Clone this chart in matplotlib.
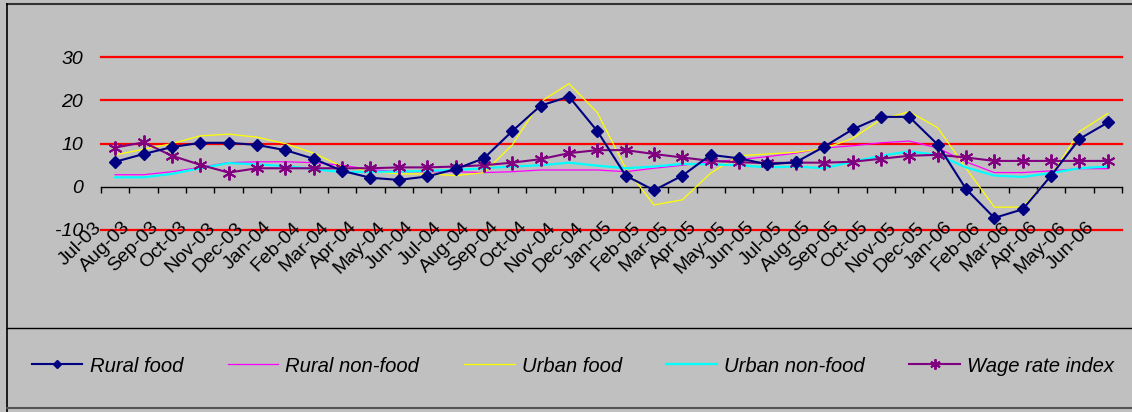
import matplotlib
matplotlib.use("Agg")
import matplotlib.pyplot as plt
import matplotlib.transforms as mtransforms
from matplotlib.lines import Line2D
import numpy as np

plt.rcParams['font.family'] = ['Liberation Sans', 'DejaVu Sans']

months = ["Jul-03", "Aug-03", "Sep-03", "Oct-03", "Nov-03", "Dec-03",
          "Jan-04", "Feb-04", "Mar-04", "Apr-04", "May-04", "Jun-04",
          "Jul-04", "Aug-04", "Sep-04", "Oct-04", "Nov-04", "Dec-04",
          "Jan-05", "Feb-05", "Mar-05", "Apr-05", "May-05", "Jun-05",
          "Jul-05", "Aug-05", "Sep-05", "Oct-05", "Nov-05", "Dec-05",
          "Jan-06", "Feb-06", "Mar-06", "Apr-06", "May-06", "Jun-06"]

rural_food = [5.8, 7.6, 9.2, 10.2, 10.2, 9.7, 8.5, 6.5, 3.7, 2.1, 1.6, 2.4,
              4.1, 6.6, 12.9, 18.8, 20.9, 12.9, 2.6, -0.8, 2.6, 7.4, 6.6, 5.2,
              5.7, 9.3, 13.3, 16.2, 16.2, 9.8, -0.5, -7.2, -5.2, 2.6, 11.1, 14.9]
rural_nonfood = [2.8, 2.8, 3.5, 4.5, 5.6, 5.8, 5.8, 5.6, 5.0, 4.0, 3.5, 3.5,
                 3.5, 3.3, 3.5, 3.9, 3.9, 3.9, 3.5, 4.3, 5.0, 5.8, 6.3, 7.0,
                 7.8, 9.0, 9.5, 10.2, 10.6, 9.0, 5.8, 3.3, 3.3, 3.7, 4.2, 4.2]
urban_food = [7.4, 8.7, 10.0, 11.8, 12.2, 11.5, 10.0, 7.8, 4.7, 3.6, 3.0, 3.0,
              2.6, 3.3, 9.7, 19.7, 23.9, 17.2, 4.3, -4.2, -3.0, 3.2, 7.2, 7.6,
              8.0, 8.9, 11.2, 15.6, 17.4, 13.7, 4.3, -4.7, -4.7, 2.6, 12.8, 17.0]
urban_nonfood = [2.2, 2.2, 3.0, 4.3, 5.5, 5.2, 4.8, 4.1, 3.4, 3.5, 3.5, 3.7,
                 3.9, 4.3, 4.7, 5.0, 5.6, 4.9, 4.3, 4.7, 5.3, 5.2, 5.0, 4.5,
                 4.7, 4.3, 5.8, 7.2, 8.2, 7.4, 4.5, 2.6, 2.3, 3.2, 4.3, 4.7]
wage_index = [9.1, 10.3, 7.2, 5.1, 3.3, 4.3, 4.3, 4.3, 4.3, 4.3, 4.5, 4.5,
              4.7, 5.0, 5.6, 6.4, 7.8, 8.5, 8.5, 7.6, 6.8, 6.0, 5.7, 5.5,
              5.6, 5.6, 5.8, 6.5, 7.2, 7.4, 6.8, 6.0, 6.0, 6.0, 6.0, 6.0]

y_ticks = [-10, 0, 10, 20, 30]
grid_levels = [-10, 10, 20, 30]

W, H = 1132, 412
bg = '#C0C0C0'
fig = plt.figure(figsize=(W / 100, H / 100), dpi=100, facecolor=bg)

left, right = 101 / W, 1122 / W
bottom, top = 1 - 230 / H, 1 - 57.3 / H
ax = fig.add_axes([left, bottom, right - left, top - bottom], facecolor=bg)

x = np.arange(len(months))
ax.set_xlim(-0.5, len(months) - 0.5)
ax.set_ylim(-10, 30)

for g in grid_levels:
    ax.axhline(g, color='#FF0000', lw=1.6, zorder=1, clip_on=False)

ax.plot(x, rural_nonfood, color='#FF00FF', lw=0.9, zorder=3, label='Rural non-food', clip_on=False)
ax.plot(x, urban_food, color='#FFFF00', lw=0.9, zorder=3, label='Urban food', clip_on=False)
ax.plot(x, urban_nonfood, color='#00FFFF', lw=1.6, zorder=3, label='Urban non-food', clip_on=False)
ax.plot(x, wage_index, color='#800080', lw=1.5, marker=(6, 2, 0), ms=10,
        mew=1.4, zorder=4, label='Wage rate index', clip_on=False)
ax.plot(x, rural_food, color='#000080', lw=1.5, marker='D', ms=6, zorder=5,
        label='Rural food', clip_on=False)

for s in ['top', 'right', 'left']:
    ax.spines[s].set_visible(False)
ax.spines['bottom'].set_position(('data', 0))
ax.spines['bottom'].set_color('black')
ax.spines['bottom'].set_linewidth(1.0)
ax.spines['bottom'].set_zorder(2)

ax.set_xticks(x)
ax.set_xticks(np.arange(-0.5, len(months)), minor=True)
ax.tick_params(axis='x', which='major', length=0, pad=23)
ax.tick_params(axis='x', which='minor', length=4.5, width=1.0, direction='out', color='black')
ax.set_xticklabels(months, rotation=45, ha='right', va='top', fontsize=14)
offset = mtransforms.ScaledTranslation(-10 / 100, 0, fig.dpi_scale_trans)
for lab in ax.get_xticklabels():
    lab.set_transform(lab.get_transform() + offset)

ax.set_yticks(y_ticks)
ax.set_yticklabels([str(v) for v in y_ticks], fontsize=14, style='italic')
ax.tick_params(axis='y', length=0, pad=13)

# chart frame lines
def fline(x0, y0, x1, y1, color, lw):
    fig.add_artist(Line2D([x0 / W, x1 / W], [1 - y0 / H, 1 - y1 / H],
                          transform=fig.transFigure, color=color, lw=lw))

fline(7, 4, W, 4, '#333333', 1.5)
fline(7, 4, 7, 412, '#000000', 1.2)
fline(7, 328, W, 328, '#000000', 1.0)
fline(7, 408, W, 408, '#555555', 1.5)

order = ['Rural food', 'Rural non-food', 'Urban food', 'Urban non-food', 'Wage rate index']
handles, labels = ax.get_legend_handles_labels()
hmap = dict(zip(labels, handles))
fig.legend([hmap[k] for k in order], order, loc='center',
           bbox_to_anchor=(573 / W, 1 - 366 / H), ncol=5, frameon=False,
           prop={'size': 14.6, 'style': 'italic'}, handlelength=2.5,
           handletextpad=0.35, columnspacing=2.2, numpoints=1, markerscale=0.75)

fig.savefig('out.png', dpi=100, facecolor=bg)
